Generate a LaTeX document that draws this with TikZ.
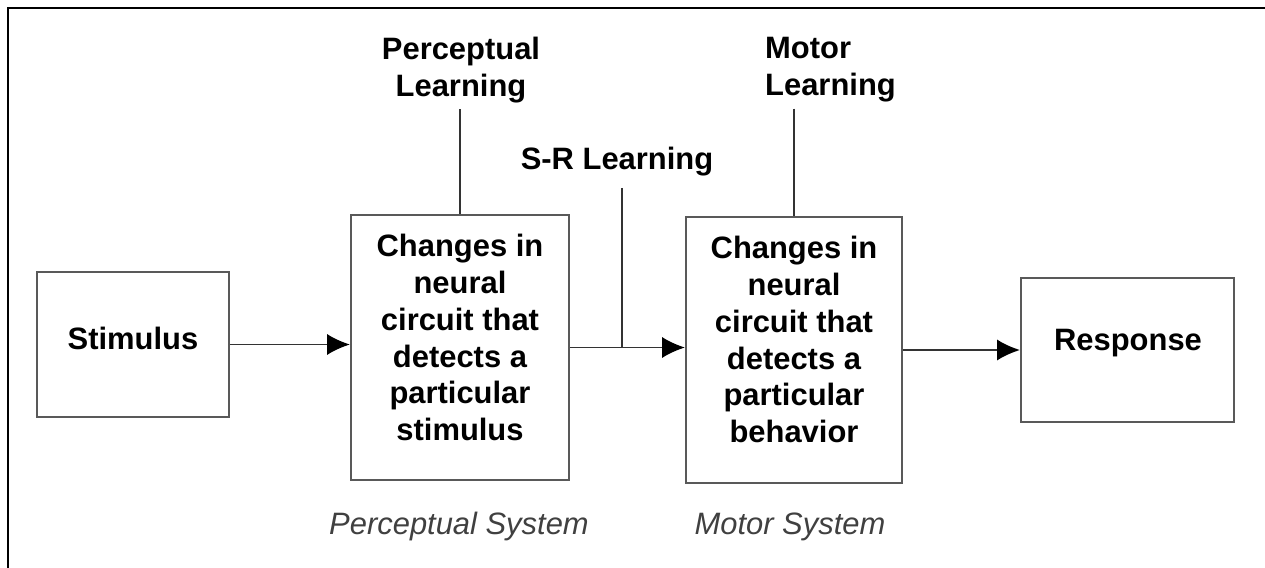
\documentclass[tikz,border=0pt]{standalone}
\usepackage{fontspec}
\setmainfont{Liberation Sans}
\usetikzlibrary{arrows.meta}

\begin{document}
\begin{tikzpicture}[x=0.02cm,y=-0.02cm,>={Latex[length=13pt,width=12pt,black]},
		box/.style={draw=black!65,line width=1.2pt,minimum width=#1,inner sep=0pt},
		boxtext/.style={align=center,font=\fontsize{17.6pt}{21pt}\selectfont\bfseries},
		learn/.style={font=\fontsize{17.6pt}{21pt}\selectfont\bfseries},
		sys/.style={text=black!75,font=\fontsize{17.6pt}{21pt}\selectfont\itshape},
		link/.style={draw=black!80,line width=1.1pt}]
		\useasboundingbox (0,0) rectangle (1265,568);
		% Cornice
		\draw [line width=1.2pt] (8,568) -- (8,8) -- (1265,8);
		
		% Riquadri
		\node [box=3.84cm,minimum height=2.9cm] (stim) at (133,344.5) {};
		\node [box=4.36cm,minimum height=5.3cm] (perc) at (460,347.5) {};
		\node [box=4.32cm,minimum height=5.32cm] (motor) at (794,350) {};
		\node [box=4.26cm,minimum height=2.88cm] (resp) at (1127.5,350) {};
		
		% Testi nei riquadri
		\node [boxtext] (stimtext) at (133,338) {Stimulus};
		\node [boxtext] (perctext) at (460,337.5) {Changes in\\neural\\circuit that\\detects a\\particular\\stimulus};
		\node [boxtext] (motortext) at (794,339.5) {Changes in\\neural\\circuit that\\detects a\\particular\\behavior};
		\node [boxtext] (resptext) at (1128,343) {Response};
		
		% Apprendimento
		\node [learn,align=center] (plearn) at (461,70) {Perceptual\\Learning};
		\node [learn,align=left,anchor=west] (mlearn) at (759,70) {Motor\\Learning};
		\node [learn] (sr) at (617,162) {S-R Learning};
		\coordinate (srj) at (622,347.5);
		
		% Sistemi
		\node [sys] (psys) at (459,527) {Perceptual System};
		\node [sys] (msys) at (790,527) {Motor System};
		
		% Frecce
		\draw [link,->] (stim.east) -- (stim.east -| perc.west);
		\draw [link,->] (perc.east) -- (motor.west |- perc.east);
		\draw [link,->] (motor.east) -- (resp.west |- motor.east);
		
		% Linee verticali
		\draw [link] (plearn.south -| perc.north) -- (perc.north);
		\draw [link] (mlearn.south -| motor.north) -- (motor.north);
		\draw [link,shorten <=3pt] (sr.south -| srj) -- (srj);
	\end{tikzpicture}
\end{document}
